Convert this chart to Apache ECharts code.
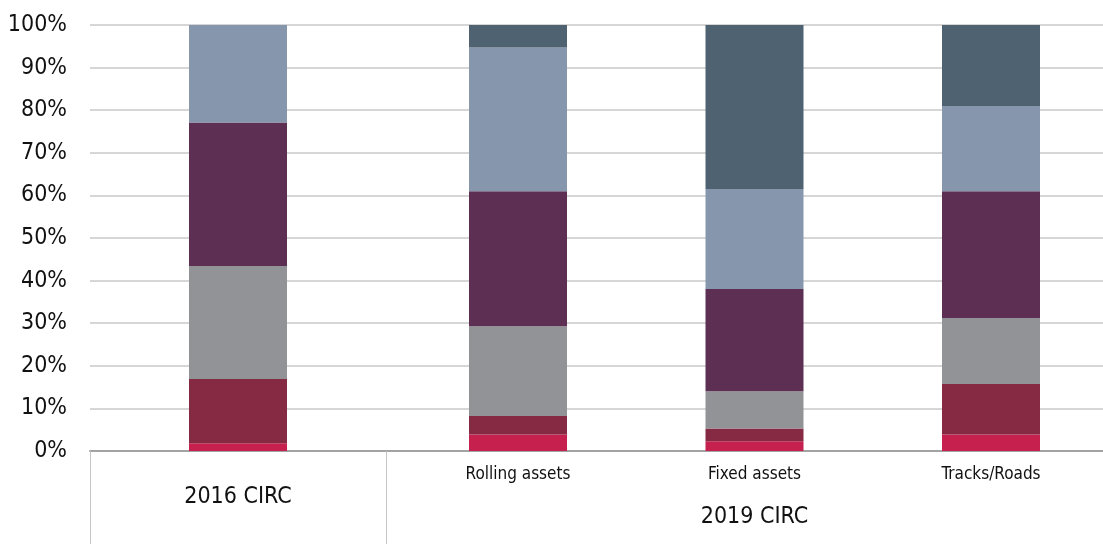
<!DOCTYPE html>
<html>
<head>
<meta charset="utf-8">
<script src="https://cdn.jsdelivr.net/npm/echarts@6/dist/echarts.min.js"></script>
<style>
  html, body { margin: 0; padding: 0; background: #ffffff; }
  #chart { width: 1103px; height: 544px; }
</style>
</head>
<body>
<div id="chart"></div>
<script>
// Category groups and their sub-categories
const groupNames = ['2016 CIRC', '2019 CIRC'];
const categories2016 = [''];
const categories2019 = ['Rolling assets', 'Fixed assets', 'Tracks/Roads'];

// Y axis range (percent)
const yMin = 0;
const yMax = 100;
const yStep = 10;

// Share of each segment (%), stacked bottom to top.
// Order of values: 2016 CIRC, Rolling assets, Fixed assets, Tracks/Roads
const segment1 = [1.8, 3.9, 2.3, 3.9];
const segment2 = [15.1, 4.3, 3.0, 11.8];
const segment3 = [26.5, 21.1, 8.7, 15.5];
const segment4 = [33.7, 31.7, 24.0, 29.8];
const segment5 = [22.9, 33.7, 23.5, 20.0];
const segment6 = [0.0, 5.3, 38.5, 19.0];

const segmentColors = ['#C6204E', '#862A44', '#929396', '#5D3053', '#8696AD', '#4F6271'];
const segments = [segment1, segment2, segment3, segment4, segment5, segment6];

const narrowFont = '"Liberation Sans Narrow", "DejaVu Sans Condensed", "Liberation Sans", sans-serif';
const plotTop = 25;
const plotBottom = 93;

const chart = echarts.init(document.getElementById('chart'), null, { renderer: 'canvas' });

const series = [];
segments.forEach((vals, i) => {
  // 2016 group (grid 1)
  series.push({
    name: 'Segment ' + (i + 1),
    type: 'bar',
    stack: 'g2016',
    xAxisIndex: 1,
    yAxisIndex: 1,
    barWidth: 98,
    itemStyle: { color: segmentColors[i] },
    data: vals.slice(0, 1),
    silent: true
  });
  // 2019 group (grid 2)
  series.push({
    name: 'Segment ' + (i + 1),
    type: 'bar',
    stack: 'g2019',
    xAxisIndex: 2,
    yAxisIndex: 2,
    barWidth: 98,
    itemStyle: { color: segmentColors[i] },
    data: vals.slice(1),
    silent: true
  });
});

const hiddenY = (idx) => ({
  type: 'value', gridIndex: idx, min: yMin, max: yMax, interval: yStep,
  show: false
});

chart.setOption({
  animation: false,
  backgroundColor: '#ffffff',
  grid: [
    // background frame: gridlines, y labels, baseline
    { left: 90, right: 0, top: plotTop, bottom: plotBottom, containLabel: false },
    // 2016 group
    { left: 90, width: 296, top: plotTop, bottom: plotBottom, containLabel: false },
    // 2019 group: categories sit on the ticks, first and last at the grid edges
    { left: 518, width: 473, top: plotTop, bottom: plotBottom, containLabel: false }
  ],
  xAxis: [
    {
      type: 'value', gridIndex: 0, min: 0, max: 1,
      axisLabel: { show: false }, axisTick: { show: false }, splitLine: { show: false },
      axisLine: { show: true, lineStyle: { color: '#a3a3a3', width: 2 } }
    },
    {
      type: 'category', gridIndex: 1, data: categories2016,
      axisLine: { show: false },
      axisTick: { show: true, length: 94, alignWithLabel: false, lineStyle: { color: '#c4c4c4', width: 1 } },
      axisLabel: { show: true, color: '#111111', fontFamily: narrowFont, fontSize: 17, margin: 13 },
      name: groupNames[0], nameLocation: 'middle', nameGap: 35,
      nameTextStyle: { color: '#111111', fontFamily: narrowFont, fontSize: 23 }
    },
    {
      type: 'category', gridIndex: 2, data: categories2019, boundaryGap: false,
      axisLine: { show: false },
      axisTick: { show: false },
      axisLabel: { show: true, color: '#111111', fontFamily: narrowFont, fontSize: 17, margin: 15, interval: 0 },
      name: groupNames[1], nameLocation: 'middle', nameGap: 55,
      nameTextStyle: { color: '#111111', fontFamily: narrowFont, fontSize: 23 }
    }
  ],
  yAxis: [
    {
      type: 'value', gridIndex: 0, min: yMin, max: yMax, interval: yStep,
      axisLine: { show: false }, axisTick: { show: false },
      axisLabel: {
        formatter: '{value}%', color: '#111111', fontFamily: narrowFont, fontSize: 23, margin: 23
      },
      splitLine: { show: true, lineStyle: { color: '#c8c8c8', width: 1.5 } }
    },
    hiddenY(1),
    hiddenY(2)
  ],
  series: series
});
</script>
</body>
</html>
